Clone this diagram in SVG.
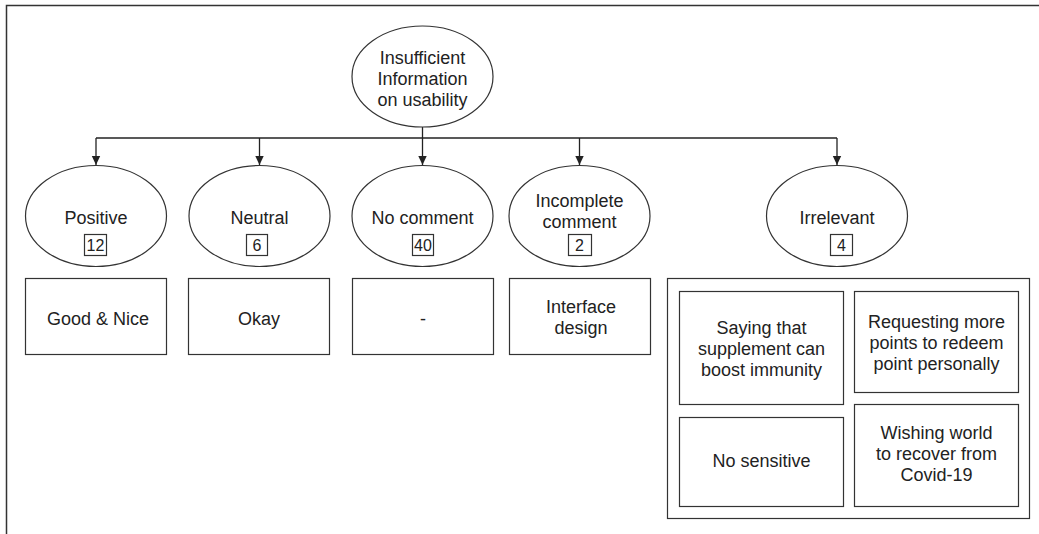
<svg xmlns="http://www.w3.org/2000/svg" width="1039" height="534" viewBox="0 0 1039 534">
  <style>
    .shape { fill: #ffffff; stroke: #333333; stroke-width: 1.2; }
    .frame { fill: none; stroke: #333333; stroke-width: 1.5; }
    .edge { fill: none; stroke: #222222; stroke-width: 1.3; }
    text { font-family: "Liberation Sans", Arial, sans-serif; font-size: 18px; fill: #222222; text-anchor: middle; }
    text.count { font-size: 16px; }
  </style>
  <defs>
    <marker id="arrow" markerWidth="10" markerHeight="10" refX="9" refY="5" orient="auto" markerUnits="userSpaceOnUse">
      <path d="M0,0.8 L9,5 L0,9.2 Z" fill="#222222"/>
    </marker>
  </defs>

  <rect width="1039" height="534" fill="#ffffff"/>
  <!-- outer frame (top and left edges) -->
  <path class="frame" d="M6.5,534 V5.5 H1039"/>

  <!-- connectors -->
  <g id="connectors">
    <path class="edge" d="M96,138 H837"/>
    <path class="edge" d="M422.5,127 V165" marker-end="url(#arrow)"/>
    <path class="edge" d="M96,138 V165" marker-end="url(#arrow)"/>
    <path class="edge" d="M259.5,138 V165" marker-end="url(#arrow)"/>
    <path class="edge" d="M579.5,138 V165" marker-end="url(#arrow)"/>
    <path class="edge" d="M837,138 V165" marker-end="url(#arrow)"/>
  </g>

  <!-- root -->
  <g id="root">
    <ellipse class="shape" cx="422.5" cy="76.5" rx="70.5" ry="50.5"/>
    <text x="422.5" y="63.5">Insufficient</text>
    <text x="422.5" y="84.5">Information</text>
    <text x="422.5" y="105.5">on usability</text>
  </g>

  <!-- categories -->
  <g id="positive">
    <ellipse class="shape" cx="96" cy="216" rx="70.5" ry="50.5"/>
    <text x="96" y="223.5">Positive</text>
    <rect class="shape" x="84.5" y="234.5" width="22" height="21"/>
    <text class="count" x="95.5" y="251">12</text>
  </g>
  <g id="neutral">
    <ellipse class="shape" cx="259.5" cy="216" rx="70.5" ry="50.5"/>
    <text x="259.5" y="223.5">Neutral</text>
    <rect class="shape" x="246.5" y="234.5" width="21" height="21"/>
    <text class="count" x="257" y="251">6</text>
  </g>
  <g id="no-comment">
    <ellipse class="shape" cx="422.5" cy="216" rx="70.5" ry="50.5"/>
    <text x="422.5" y="223.5">No comment</text>
    <rect class="shape" x="412.5" y="234.5" width="21" height="21"/>
    <text class="count" x="423" y="251">40</text>
  </g>
  <g id="incomplete">
    <ellipse class="shape" cx="579.5" cy="216" rx="70.5" ry="50.5"/>
    <text x="579.5" y="206.5">Incomplete</text>
    <text x="579.5" y="227.5">comment</text>
    <rect class="shape" x="568.5" y="234.5" width="23" height="21"/>
    <text class="count" x="579.5" y="251">2</text>
  </g>
  <g id="irrelevant">
    <ellipse class="shape" cx="837" cy="216" rx="70.5" ry="50.5"/>
    <text x="837" y="223.5">Irrelevant</text>
    <rect class="shape" x="830.5" y="234.5" width="22" height="21"/>
    <text class="count" x="841.5" y="251">4</text>
  </g>

  <!-- example comments -->
  <g id="positive-examples">
    <rect class="shape" x="25.5" y="278.5" width="141" height="76"/>
    <text x="98" y="324.5">Good &amp; Nice</text>
  </g>
  <g id="neutral-examples">
    <rect class="shape" x="188.5" y="278.5" width="141" height="76"/>
    <text x="259" y="324.5">Okay</text>
  </g>
  <g id="no-comment-examples">
    <rect class="shape" x="352.5" y="278.5" width="141" height="76"/>
    <text x="423" y="324.5">-</text>
  </g>
  <g id="incomplete-examples">
    <rect class="shape" x="509.5" y="278.5" width="141" height="76"/>
    <text x="581" y="312.5">Interface</text>
    <text x="581" y="333.5">design</text>
  </g>
  <g id="irrelevant-examples">
    <rect class="shape" x="667.5" y="278.5" width="362" height="240"/>
    <g id="irrelevant-immunity">
      <rect class="shape" x="679.5" y="291.5" width="164" height="113"/>
      <text x="761.5" y="333.5">Saying that</text>
      <text x="761.5" y="354.5">supplement can</text>
      <text x="761.5" y="375.5">boost immunity</text>
    </g>
    <g id="irrelevant-points">
      <rect class="shape" x="854.5" y="291.5" width="164" height="101"/>
      <text x="936.5" y="327.5">Requesting more</text>
      <text x="936.5" y="348.5">points to redeem</text>
      <text x="936.5" y="369.5">point personally</text>
    </g>
    <g id="irrelevant-sensitive">
      <rect class="shape" x="679.5" y="417.5" width="164" height="89"/>
      <text x="761.5" y="467">No sensitive</text>
    </g>
    <g id="irrelevant-covid">
      <rect class="shape" x="854.5" y="404.5" width="164" height="102"/>
      <text x="936.5" y="439">Wishing world</text>
      <text x="936.5" y="460">to recover from</text>
      <text x="936.5" y="481">Covid-19</text>
    </g>
  </g>
</svg>
